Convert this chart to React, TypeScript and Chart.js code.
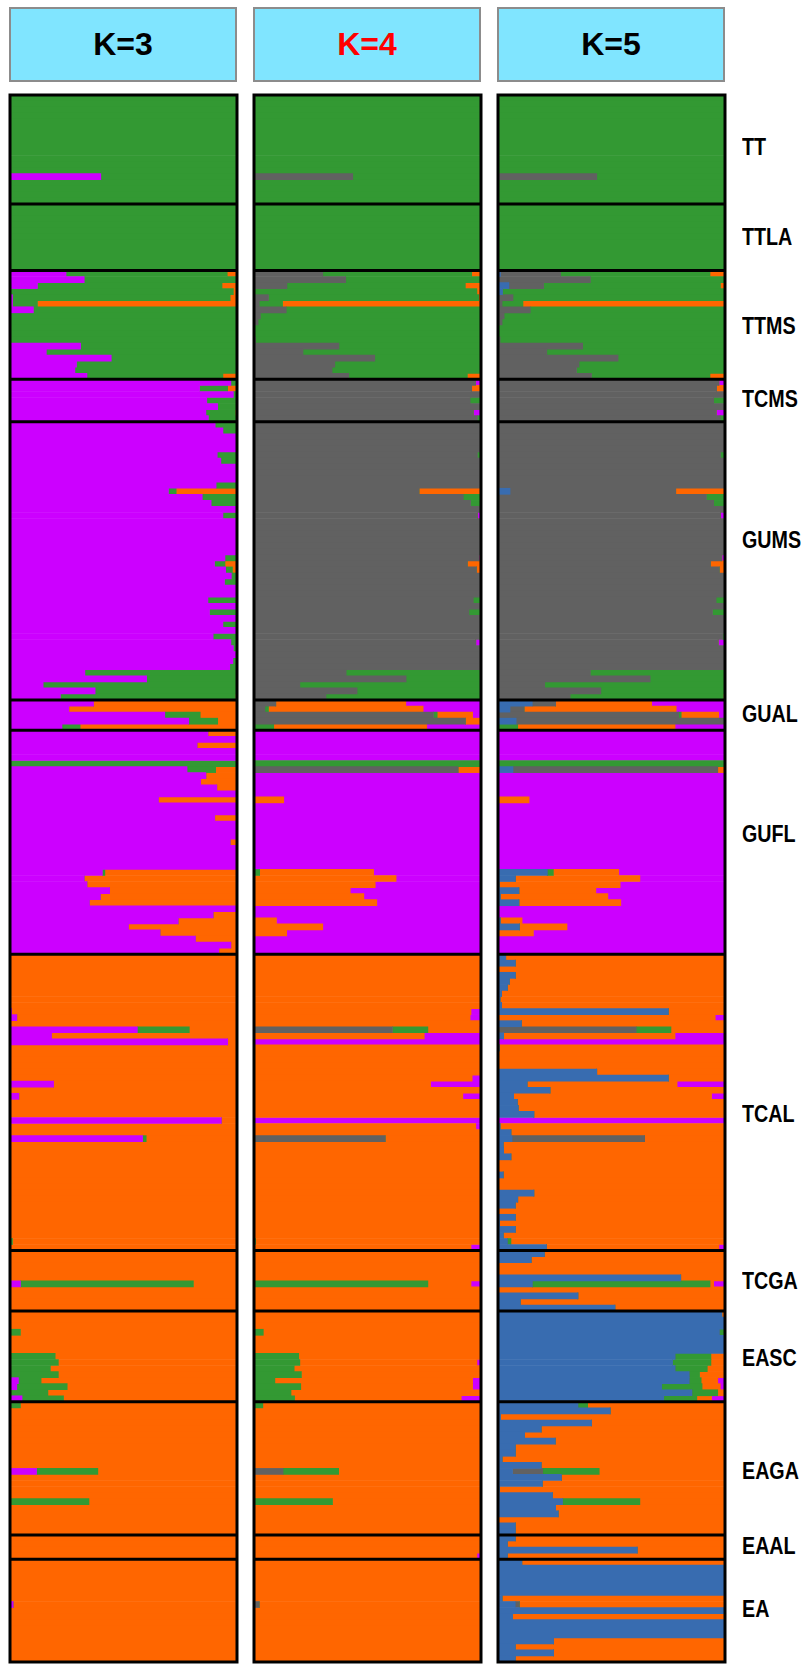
import React, { useEffect, useRef } from "react";
import { Chart, registerables } from "chart.js";
Chart.register(...registerables);

// ---------- groups ----------
const groupNames = ["TT", "TTLA", "TTMS", "TCMS", "GUMS", "GUAL", "GUFL", "TCAL", "TCGA", "EASC", "EAGA", "EAAL", "EA"];
const groupSizes = [18, 11, 18, 7, 46, 5, 37, 49, 10, 15, 22, 4, 17];
const labelRows = [8.6, 5.5, 9.1, 3.3, 19.5, 2.25, 17.2, 26.4, 5.0, 7.8, 11.5, 1.9, 8.3];

// ---------- colours ----------
const GREEN = "#339933";
const PURPLE = "#cc00ff";
const ORANGE = "#ff6600";
const GRAY = "#616161";
const BLUE = "#386cb0";
const colorsK3 = [PURPLE, GREEN, ORANGE];
const colorsK4 = [GRAY, GREEN, ORANGE, PURPLE];
const colorsK5 = [BLUE, GRAY, GREEN, ORANGE, PURPLE];

// ---------- K=3 (purple, green, orange) ----------
const P3 = [1, 0, 0], G3 = [0, 1, 0], O3 = [0, 0, 1];
const k3TT = [G3, G3, G3, G3, G3, G3, G3, G3, G3, G3, G3, G3, G3, [0.4, 0.6, 0], G3, G3, G3, G3];
const k3TTLA = [G3, G3, G3, G3, G3, G3, G3, G3, G3, G3, G3];
const k3TTMS = [[0.247, 0.71, 0.043], [0.327, 0.673, 0], [0.121, 0.813, 0.066], [0, 0.984, 0.016], [0.011, 0.959, 0.03], [0.011, 0.11, 0.879], [0.103, 0.897, 0], G3, G3, G3, G3, G3, [0.311, 0.689, 0], [0.16, 0.84, 0], [0.446, 0.554, 0], [0.293, 0.707, 0], [0.286, 0.714, 0], [0.339, 0.599, 0.062]];
const k3TCMS = [[0.973, 0.027, 0], [0.835, 0.124, 0.041], [0.984, 0.016, 0], [0.867, 0.133, 0], [0.915, 0.085, 0], [0.863, 0.13, 0.007], [0.874, 0.126, 0]];
const k3GUMS = [[0.904, 0.096, 0], [0.938, 0.062, 0], P3, P3, P3, [0.913, 0.087, 0], [0.929, 0.071, 0], P3, P3, P3, [0.908, 0.092, 0], [0.698, 0.034, 0.268], [0.847, 0.153, 0], [0.886, 0.114, 0], P3, [0.938, 0.062, 0], P3, P3, P3, P3, P3, P3, [0.947, 0.053, 0], [0.901, 0.046, 0.053], [0.95, 0.03, 0.02], [0.975, 0.025, 0], [0.945, 0.055, 0], P3, P3, [0.872, 0.128, 0], P3, [0.879, 0.121, 0], P3, [0.938, 0.062, 0], P3, [0.895, 0.105, 0], [0.973, 0.027, 0], [0.984, 0.016, 0], P3, [0.982, 0.018, 0], [0.968, 0.032, 0], [0.33, 0.67, 0], [0.602, 0.398, 0], [0.146, 0.854, 0], [0.375, 0.625, 0], [0.222, 0.771, 0.007]];
const k3GUAL = [[0.368, 0, 0.632], [0.259, 0, 0.741], [0.682, 0.156, 0.162], [0.787, 0.128, 0.085], [0.229, 0.08, 0.691]];
const k3GUFL = [[0.872, 0, 0.128], P3, [0.824, 0, 0.176], P3, P3, G3, [0.78, 0.126, 0.094], [0.863, 0, 0.137], [0.84, 0, 0.16], [0.911, 0, 0.089], P3, [0.654, 0, 0.346], P3, P3, [0.902, 0, 0.098], P3, P3, P3, [0.97, 0, 0.03], P3, P3, P3, P3, [0.407, 0.011, 0.582], [0.327, 0, 0.673], [0.339, 0, 0.661], [0.439, 0, 0.561], [0.398, 0, 0.602], [0.35, 0, 0.65], P3, [0.895, 0, 0.105], [0.741, 0, 0.259], [0.522, 0, 0.478], [0.661, 0, 0.339], [0.817, 0, 0.183], [0.973, 0, 0.027], [0.92, 0, 0.08]];
const k3TCAL = [O3, O3, O3, O3, O3, O3, O3, O3, O3, [0.007, 0, 0.993], [0.03, 0, 0.97], O3, [0.561, 0.229, 0.21], [0.183, 0, 0.817], [0.959, 0, 0.041], O3, O3, O3, O3, O3, O3, [0.192, 0, 0.808], O3, [0.039, 0, 0.961], O3, O3, O3, [0.931, 0, 0.069], O3, O3, [0.584, 0.016, 0.4], O3, O3, O3, O3, O3, O3, O3, O3, O3, O3, O3, O3, O3, O3, O3, O3, [0, 0.011, 0.989], O3];
const k3TCGA = [O3, O3, O3, O3, O3, [0.046, 0.762, 0.192], O3, O3, O3, O3];
const k3EASC = [O3, O3, O3, [0, 0.046, 0.954], O3, O3, O3, [0, 0.199, 0.801], [0, 0.213, 0.787], [0, 0.178, 0.822], [0, 0.213, 0.787], [0.037, 0.1, 0.863], [0.03, 0.222, 0.748], [0, 0.167, 0.833], [0.053, 0.183, 0.764]];
const k3EAGA = [[0, 0.046, 0.954], O3, O3, O3, O3, O3, O3, O3, O3, O3, O3, [0.117, 0.27, 0.613], O3, O3, O3, O3, [0, 0.348, 0.652], O3, O3, O3, O3, O3];
const k3EAAL = [O3, O3, O3, O3];
const k3EA = [O3, O3, O3, O3, O3, O3, O3, [0.014, 0, 0.986], O3, O3, O3, O3, O3, O3, O3, O3, O3];

// ---------- K=4 (gray, green, orange, purple) ----------
const Y4 = [1, 0, 0, 0], G4 = [0, 1, 0, 0], O4 = [0, 0, 1, 0], P4 = [0, 0, 0, 1];
const k4TT = [G4, G4, G4, G4, G4, G4, G4, G4, G4, G4, G4, G4, G4, [0.435, 0.565, 0, 0], G4, G4, G4, G4];
const k4TTLA = [G4, G4, G4, G4, G4, G4, G4, G4, G4, G4, G4];
const k4TTMS = [[0.303, 0.656, 0.041, 0], [0.404, 0.596, 0, 0], [0.145, 0.786, 0.069, 0], [0, 0.982, 0.018, 0], [0.064, 0.926, 0.01, 0], [0.023, 0.103, 0.874, 0], [0.142, 0.853, 0.005, 0], [0.028, 0.972, 0, 0], [0.018, 0.982, 0, 0], G4, G4, [0.007, 0.993, 0, 0], [0.374, 0.626, 0, 0], [0.216, 0.784, 0, 0], [0.532, 0.468, 0, 0], [0.356, 0.644, 0, 0], [0.344, 0.656, 0, 0], [0.417, 0.523, 0.06, 0]];
const k4TCMS = [[0.975, 0, 0, 0.025], [0.959, 0, 0.041, 0], Y4, [0.952, 0.048, 0, 0], Y4, [0.966, 0, 0, 0.034], [0.984, 0.016, 0, 0]];
const k4GUMS = [[0.995, 0.005, 0, 0], Y4, Y4, Y4, Y4, [0.984, 0.016, 0, 0], Y4, Y4, Y4, Y4, Y4, [0.727, 0, 0.273, 0], [0.922, 0.078, 0, 0], [0.954, 0.046, 0, 0], Y4, [0.984, 0, 0, 0.016], Y4, Y4, Y4, Y4, Y4, Y4, [0.991, 0, 0, 0.009], [0.94, 0, 0.06, 0], [0.98, 0, 0.02, 0], Y4, Y4, Y4, Y4, [0.966, 0.034, 0, 0], Y4, [0.947, 0.053, 0, 0], Y4, Y4, Y4, [0.993, 0.007, 0, 0], [0.977, 0, 0, 0.023], Y4, Y4, Y4, Y4, [0.406, 0.594, 0, 0], [0.67, 0.33, 0, 0], [0.202, 0.798, 0, 0], [0.454, 0.546, 0, 0], [0.317, 0.683, 0, 0]];
const k4GUAL = [[0.096, 0, 0.573, 0.331], [0.048, 0.016, 0.681, 0.255], [0.791, 0.016, 0.156, 0.037], [0.931, 0, 0.069, 0], [0, 0.087, 0.674, 0.239]];
const k4GUFL = [P4, P4, P4, P4, P4, G4, [0.899, 0, 0.101, 0], P4, P4, P4, P4, [0, 0, 0.131, 0.869], P4, P4, P4, P4, P4, P4, P4, P4, P4, P4, P4, [0, 0.025, 0.502, 0.473], [0, 0, 0.626, 0.374], [0, 0, 0.534, 0.466], [0, 0, 0.424, 0.576], [0, 0, 0.484, 0.516], [0, 0, 0.541, 0.459], P4, P4, [0, 0, 0.099, 0.901], [0, 0, 0.303, 0.697], [0, 0, 0.144, 0.856], P4, P4, P4];
const k4TCAL = [O4, O4, O4, O4, O4, O4, O4, O4, O4, [0, 0, 0.956, 0.044], [0, 0, 0.952, 0.048], O4, [0.61, 0.156, 0.227, 0.007], [0, 0, 0.75, 0.25], P4, O4, O4, O4, O4, O4, [0, 0, 0.961, 0.039], [0, 0, 0.778, 0.222], O4, [0, 0, 0.92, 0.08], O4, O4, O4, P4, [0, 0, 0.977, 0.023], O4, [0.578, 0, 0.422, 0], O4, O4, O4, O4, O4, O4, O4, O4, O4, O4, O4, O4, O4, O4, O4, O4, [0, 0.007, 0.993, 0], [0, 0, 0.956, 0.044]];
const k4TCGA = [O4, O4, O4, O4, O4, [0, 0.766, 0.19, 0.044], O4, O4, O4, O4];
const k4EASC = [O4, O4, O4, [0, 0.041, 0.959, 0], O4, O4, O4, [0, 0.197, 0.803, 0], [0, 0.202, 0.78, 0.018], [0, 0.177, 0.823, 0], [0, 0.209, 0.791, 0], [0, 0.092, 0.871, 0.037], [0, 0.206, 0.757, 0.037], [0, 0.163, 0.837, 0], [0, 0.179, 0.734, 0.087]];
const k4EAGA = [[0, 0.039, 0.961, 0], O4, O4, O4, O4, O4, O4, O4, O4, O4, O4, [0.128, 0.245, 0.627, 0], O4, O4, O4, O4, [0, 0.346, 0.654, 0], O4, O4, O4, O4, [0, 0, 0.995, 0.005]];
const k4EAAL = [O4, O4, O4, [0, 0, 0.982, 0.018]];
const k4EA = [O4, O4, O4, O4, O4, O4, O4, [0.023, 0, 0.977, 0], O4, O4, O4, O4, O4, O4, O4, O4, O4];

// ---------- K=5 (blue, gray, green, orange, purple) ----------
const B5 = [1, 0, 0, 0, 0], Y5 = [0, 1, 0, 0, 0], G5 = [0, 0, 1, 0, 0], O5 = [0, 0, 0, 1, 0], P5 = [0, 0, 0, 0, 1];
const k5TT = [G5, G5, G5, G5, G5, G5, G5, G5, G5, G5, G5, G5, G5, [0, 0.435, 0.565, 0, 0], G5, G5, G5, G5];
const k5TTLA = [G5, G5, G5, G5, G5, G5, G5, G5, G5, G5, G5];
const k5TTMS = [[0.011, 0.265, 0.658, 0.066, 0], [0, 0.407, 0.593, 0, 0], [0.048, 0.153, 0.779, 0.02, 0], [0.02, 0, 0.98, 0, 0], [0, 0.066, 0.934, 0, 0], [0, 0.018, 0.092, 0.89, 0], [0, 0.142, 0.858, 0, 0], [0, 0.027, 0.973, 0, 0], [0, 0.018, 0.982, 0, 0], G5, G5, [0, 0.009, 0.991, 0, 0], [0, 0.373, 0.627, 0, 0], [0, 0.215, 0.785, 0, 0], [0, 0.529, 0.471, 0, 0], [0, 0.357, 0.643, 0, 0], [0, 0.346, 0.654, 0, 0], [0, 0.412, 0.522, 0.066, 0]];
const k5TCMS = [[0.005, 0.968, 0, 0, 0.027], [0, 0.963, 0, 0.037, 0], Y5, [0, 0.95, 0.05, 0, 0], Y5, [0, 0.961, 0, 0, 0.039], [0, 0.979, 0.021, 0, 0]];
const k5GUMS = [Y5, Y5, Y5, Y5, Y5, [0, 0.98, 0.02, 0, 0], Y5, Y5, Y5, Y5, Y5, [0.053, 0.73, 0, 0.217, 0], [0, 0.918, 0.082, 0, 0], [0, 0.95, 0.05, 0, 0], Y5, [0, 0.98, 0, 0, 0.02], Y5, Y5, Y5, Y5, Y5, Y5, [0, 0.986, 0, 0, 0.014], [0, 0.936, 0, 0.064, 0], [0, 0.975, 0, 0.025, 0], Y5, Y5, Y5, Y5, [0, 0.961, 0.039, 0, 0], Y5, [0, 0.945, 0.055, 0, 0], Y5, Y5, Y5, [0, 0.991, 0.009, 0, 0], [0, 0.97, 0, 0, 0.03], Y5, Y5, Y5, Y5, [0, 0.407, 0.593, 0, 0], [0, 0.67, 0.33, 0, 0], [0, 0.206, 0.794, 0, 0], [0, 0.453, 0.547, 0, 0], [0, 0.318, 0.675, 0.007, 0]];
const k5GUAL = [[0.151, 0.103, 0, 0.423, 0.323], [0.053, 0.062, 0, 0.67, 0.215], [0, 0.796, 0.011, 0.165, 0.028], [0.08, 0.92, 0, 0, 0], [0, 0, 0.087, 0.693, 0.22]];
const k5GUFL = [P5, P5, P5, P5, P5, G5, [0.066, 0.902, 0, 0.032, 0], P5, P5, P5, P5, [0, 0, 0, 0.137, 0.863], P5, P5, P5, P5, P5, P5, P5, P5, P5, P5, P5, [0.217, 0, 0.027, 0.288, 0.468], [0.076, 0, 0, 0.549, 0.375], [0.005, 0, 0, 0.533, 0.462], [0.092, 0, 0, 0.339, 0.569], [0.01, 0, 0, 0.474, 0.516], [0.092, 0, 0, 0.449, 0.459], P5, P5, [0.01, 0, 0, 0.096, 0.894], [0.094, 0, 0, 0.21, 0.696], [0, 0, 0, 0.156, 0.844], P5, P5, P5];
const k5TCAL = [[0.034, 0, 0, 0.966, 0], [0.076, 0, 0, 0.924, 0], O5, [0.076, 0, 0, 0.924, 0], [0.05, 0, 0, 0.95, 0], [0.041, 0, 0, 0.959, 0], [0.016, 0, 0, 0.984, 0], [0.009, 0, 0, 0.991, 0], [0.016, 0, 0, 0.984, 0], [0.75, 0, 0, 0.25, 0], [0, 0, 0, 0.957, 0.043], [0.103, 0, 0, 0.897, 0], [0, 0.609, 0.153, 0.238, 0], [0.025, 0, 0, 0.755, 0.22], P5, [0.005, 0, 0, 0.995, 0], O5, O5, O5, [0.435, 0, 0, 0.565, 0], [0.75, 0, 0, 0.25, 0], [0.128, 0, 0, 0.661, 0.211], [0.229, 0, 0, 0.771, 0], [0.069, 0, 0, 0.872, 0.059], [0.085, 0, 0, 0.915, 0], [0.089, 0, 0, 0.911, 0], [0.158, 0, 0, 0.842, 0], P5, [0.009, 0, 0, 0.991, 0], [0.057, 0, 0, 0.943, 0], [0.062, 0.584, 0, 0.354, 0], [0.023, 0, 0, 0.977, 0], [0.025, 0, 0, 0.975, 0], [0.057, 0, 0, 0.943, 0], O5, O5, [0.023, 0, 0, 0.977, 0], O5, O5, [0.158, 0, 0, 0.842, 0], [0.087, 0, 0, 0.913, 0], [0.076, 0, 0, 0.924, 0], O5, [0.076, 0, 0, 0.924, 0], [0.007, 0, 0, 0.993, 0], [0.076, 0, 0, 0.924, 0], [0.023, 0, 0, 0.977, 0], [0.041, 0, 0.016, 0.943, 0], [0.213, 0, 0, 0.76, 0.027]];
const k5TCGA = [[0.204, 0, 0, 0.796, 0], [0.146, 0, 0, 0.854, 0], O5, O5, [0.805, 0, 0, 0.195, 0], [0.151, 0, 0.783, 0.016, 0.05], O5, [0.352, 0, 0, 0.648, 0], [0.098, 0, 0, 0.902, 0], [0.515, 0, 0, 0.48, 0.005]];
const k5EASC = [[0.986, 0, 0, 0.014, 0], B5, B5, [0.975, 0, 0.025, 0, 0], B5, B5, B5, [0.78, 0, 0.158, 0.062, 0], [0.769, 0, 0.169, 0.062, 0], [0.78, 0, 0.142, 0.078, 0], [0.842, 0, 0.046, 0.112, 0], [0.842, 0, 0.053, 0.073, 0.032], [0.721, 0, 0.178, 0.08, 0.021], [0.854, 0, 0.114, 0.032, 0], [0.73, 0, 0.146, 0.065, 0.059]];
const k5EAGA = [[0.352, 0, 0.043, 0.605, 0], [0.494, 0, 0, 0.506, 0], [0.011, 0, 0, 0.989, 0], [0.412, 0, 0, 0.588, 0], [0.19, 0, 0, 0.81, 0], [0.117, 0, 0, 0.883, 0], [0.252, 0, 0, 0.748, 0], [0.076, 0, 0, 0.924, 0], [0.076, 0, 0, 0.924, 0], [0.018, 0, 0, 0.982, 0], [0.19, 0, 0, 0.81, 0], [0.064, 0.133, 0.249, 0.554, 0], [0.279, 0, 0, 0.721, 0], [0.195, 0, 0, 0.805, 0], [0.007, 0, 0, 0.993, 0], [0.24, 0, 0, 0.76, 0], [0.284, 0, 0.341, 0.375, 0], [0.254, 0, 0, 0.746, 0], [0.265, 0, 0, 0.735, 0], O5, [0.076, 0, 0, 0.924, 0], [0.076, 0, 0, 0.92, 0.004]];
const k5EAAL = [[0.076, 0, 0, 0.924, 0], [0.041, 0, 0, 0.959, 0], [0.613, 0, 0, 0.387, 0], [0.041, 0, 0, 0.959, 0]];
const k5EA = [[0.105, 0, 0, 0.895, 0], B5, B5, B5, B5, B5, [0.018, 0, 0, 0.982, 0], [0.076, 0.018, 0, 0.906, 0], B5, [0.064, 0, 0, 0.936, 0], B5, B5, B5, [0.245, 0, 0, 0.755, 0], [0.076, 0, 0, 0.924, 0], [0.245, 0, 0, 0.755, 0], [0.076, 0, 0, 0.924, 0]];

const panels = [
  { title: "K=3", titleColor: "#000000", colors: colorsK3, groups: [k3TT, k3TTLA, k3TTMS, k3TCMS, k3GUMS, k3GUAL, k3GUFL, k3TCAL, k3TCGA, k3EASC, k3EAGA, k3EAAL, k3EA] },
  { title: "K=4", titleColor: "#ff0000", colors: colorsK4, groups: [k4TT, k4TTLA, k4TTMS, k4TCMS, k4GUMS, k4GUAL, k4GUFL, k4TCAL, k4TCGA, k4EASC, k4EAGA, k4EAAL, k4EA] },
  { title: "K=5", titleColor: "#000000", colors: colorsK5, groups: [k5TT, k5TTLA, k5TTMS, k5TCMS, k5GUMS, k5GUAL, k5GUFL, k5TCAL, k5TCGA, k5EASC, k5EAGA, k5EAAL, k5EA] },
];

// ---------- layout ----------
const PANEL_LEFTS = [8, 252, 496];
const CANVAS_TOP = 93;
const CANVAS_W = 231;
const CANVAS_H = 1571;
const PAD = 2;

const groupBorders = {
  id: "groupBorders",
  afterDatasetsDraw(chart: any) {
    const { ctx, chartArea: a } = chart;
    const y = chart.scales.y;
    ctx.save();
    ctx.strokeStyle = "#000";
    ctx.lineWidth = 3;
    let start = 0;
    for (let g = 0; g < groupSizes.length - 1; g++) {
      start += groupSizes[g];
      const py = (y.getPixelForValue(start - 1) + y.getPixelForValue(start)) / 2;
      ctx.beginPath();
      ctx.moveTo(a.left, py);
      ctx.lineTo(a.right, py);
      ctx.stroke();
    }
    ctx.strokeRect(a.left, a.top, a.right - a.left, a.bottom - a.top);
    ctx.restore();
  },
};

function Panel({ idx }: { idx: number }) {
  const ref = useRef<HTMLCanvasElement>(null);
  useEffect(() => {
    const p = panels[idx];
    const rows: number[][] = [];
    p.groups.forEach((g) => g.forEach((r) => rows.push(r)));
    const chart = new Chart(ref.current as HTMLCanvasElement, {
      type: "bar",
      data: {
        labels: rows.map((_, i) => String(i + 1)),
        datasets: p.colors.map((c, j) => ({
          data: rows.map((r) => r[j]),
          backgroundColor: c,
          borderWidth: 0,
          barPercentage: 1,
          categoryPercentage: 1,
        })),
      },
      options: {
        indexAxis: "y",
        responsive: false,
        animation: false,
        devicePixelRatio: 1,
        layout: { padding: PAD },
        plugins: { legend: { display: false }, tooltip: { enabled: false } },
        scales: {
          x: { stacked: true, min: 0, max: 1, display: false },
          y: { stacked: true, display: false },
        },
      } as any,
      plugins: [groupBorders],
    });
    return () => chart.destroy();
  }, [idx]);
  return (
    <canvas
      ref={ref}
      width={CANVAS_W}
      height={CANVAS_H}
      style={{ position: "absolute", left: PANEL_LEFTS[idx], top: CANVAS_TOP, width: CANVAS_W, height: CANVAS_H }}
    />
  );
}

export default function App() {
  const total = groupSizes.reduce((s, v) => s + v, 0);
  const areaTop = CANVAS_TOP + PAD;
  const rowH = (CANVAS_H - 2 * PAD) / total;
  const labels: { name: string; y: number }[] = [];
  let start = 0;
  groupNames.forEach((n, i) => {
    labels.push({ name: n, y: areaTop + (start + labelRows[i]) * rowH });
    start += groupSizes[i];
  });
  return (
    <div style={{ position: "absolute", left: 0, top: 0, width: 802, height: 1665, background: "#fff", overflow: "hidden" }}>
      {panels.map((p, i) => (
        <div
          key={"h" + i}
          style={{
            position: "absolute",
            left: PANEL_LEFTS[i] + 1,
            top: 7,
            width: 228,
            height: 75,
            boxSizing: "border-box",
            background: "#80e5ff",
            border: "2px solid #8c8c8c",
            display: "flex",
            alignItems: "center",
            justifyContent: "center",
            fontFamily: "'Liberation Sans', Arial, sans-serif",
            fontWeight: "bold",
            fontSize: 32,
            color: p.titleColor,
          }}
        >
          {p.title}
        </div>
      ))}
      {panels.map((_, i) => (
        <Panel key={"p" + i} idx={i} />
      ))}
      {labels.map((l) => (
        <div
          key={l.name}
          style={{
            position: "absolute",
            left: 742,
            top: l.y - 12,
            height: 24,
            lineHeight: "24px",
            fontFamily: "'Liberation Sans', Arial, sans-serif",
            fontWeight: "bold",
            fontSize: 24,
            color: "#000",
            whiteSpace: "nowrap",
            transform: "scaleX(0.82)",
            transformOrigin: "left center",
          }}
        >
          {l.name}
        </div>
      ))}
    </div>
  );
}
